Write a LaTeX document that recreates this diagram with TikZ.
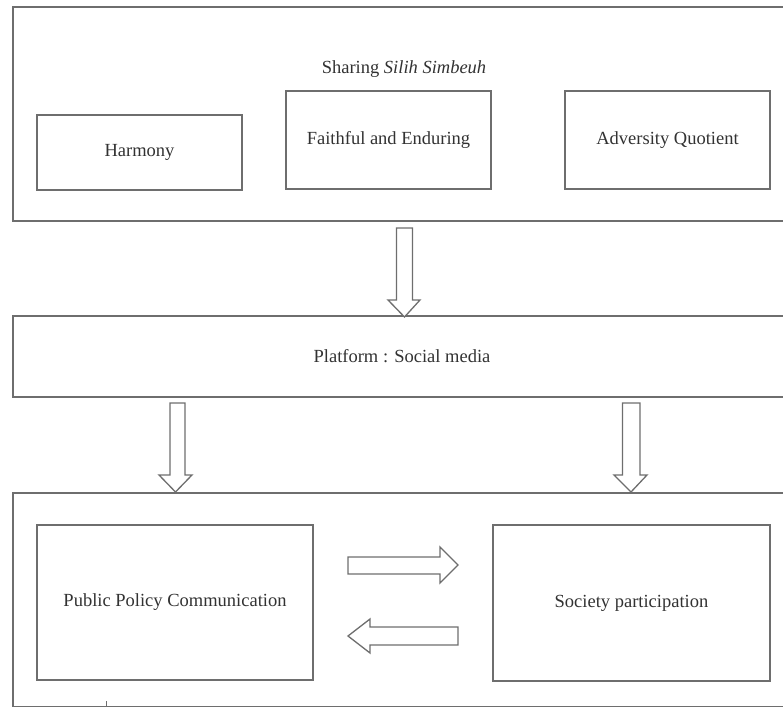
\documentclass[tikz,border=0pt]{standalone}
\usepackage{fontspec}
\setmainfont{Liberation Serif}
\definecolor{lncol}{RGB}{110,110,110}
\definecolor{txcol}{RGB}{50,50,50}
\begin{document}
\begin{tikzpicture}[x=1pt,y=-1pt,
  ln/.style={draw=lncol, line width=1.3pt},
  box/.style={ln, rectangle, inner sep=0pt, text=txcol,
    font=\fontsize{18.5}{22}\selectfont},
  lbl/.style={inner sep=0pt, text=txcol, font=\fontsize{18.5}{22}\selectfont},
  blk/.style={ln, fill=white, line join=miter}]
\useasboundingbox (0,0) rectangle (783,708);
% outer frames (open at right edge)
\draw[ln] (790,7) -- (13,7) -- (13,221) -- (790,221);
\draw[ln] (790,316) -- (13,316) -- (13,397) -- (790,397);
\draw[ln] (790,493) -- (13,493) -- (13,706.5) -- (790,706.5);
% top group
\node[lbl] (share) at (404,69) {Sharing \textit{Silih Simbeuh}};
\node[box, minimum width=205pt, minimum height=75pt] (harm) at (139.5,152.5) {Harmony};
\node[box, minimum width=205pt, minimum height=98pt] (faith) at (388.5,140) {};
\node[lbl] at (faith.center) {Faithful and Enduring};
\node[box, minimum width=205pt, minimum height=98pt] (adv) at (667.5,140) {};
\node[lbl] at (adv.center) {Adversity Quotient};
% platform
\node[lbl] (plat) at (402,356.5) {Platform : Social media};
% bottom group
\node[box, minimum width=276pt, minimum height=155pt] (ppc) at (175,602.5) {Public Policy Communication};
\node[box, minimum width=277pt, minimum height=156pt] (soc) at (631.5,603) {Society participation};
% block arrows
\draw[blk] (396.5,228) -- (412.5,228) -- (412.5,300) -- (420,300) -- (404.5,317)
  -- (388,300) -- (396.5,300) -- cycle;
\draw[blk] (170,403) -- (185,403) -- (185,475) -- (192,475) -- (175.5,492)
  -- (159,475) -- (170,475) -- cycle;
\draw[blk] (622.5,403) -- (640,403) -- (640,475) -- (647,475) -- (631,492)
  -- (614,475) -- (622.5,475) -- cycle;
\draw[blk] (348,557) -- (440,557) -- (440,547) -- (458,565) -- (440,583)
  -- (440,574) -- (348,574) -- cycle;
\draw[blk] (458,627) -- (370,627) -- (370,619) -- (348,636) -- (370,653)
  -- (370,645) -- (458,645) -- cycle;
% small tick
\coordinate (tk1) at (106,701);
\coordinate (tk2) at (106,706.5);
\draw[ln, line width=0.8pt] (tk1) -- (tk2);
\end{tikzpicture}
\end{document}
